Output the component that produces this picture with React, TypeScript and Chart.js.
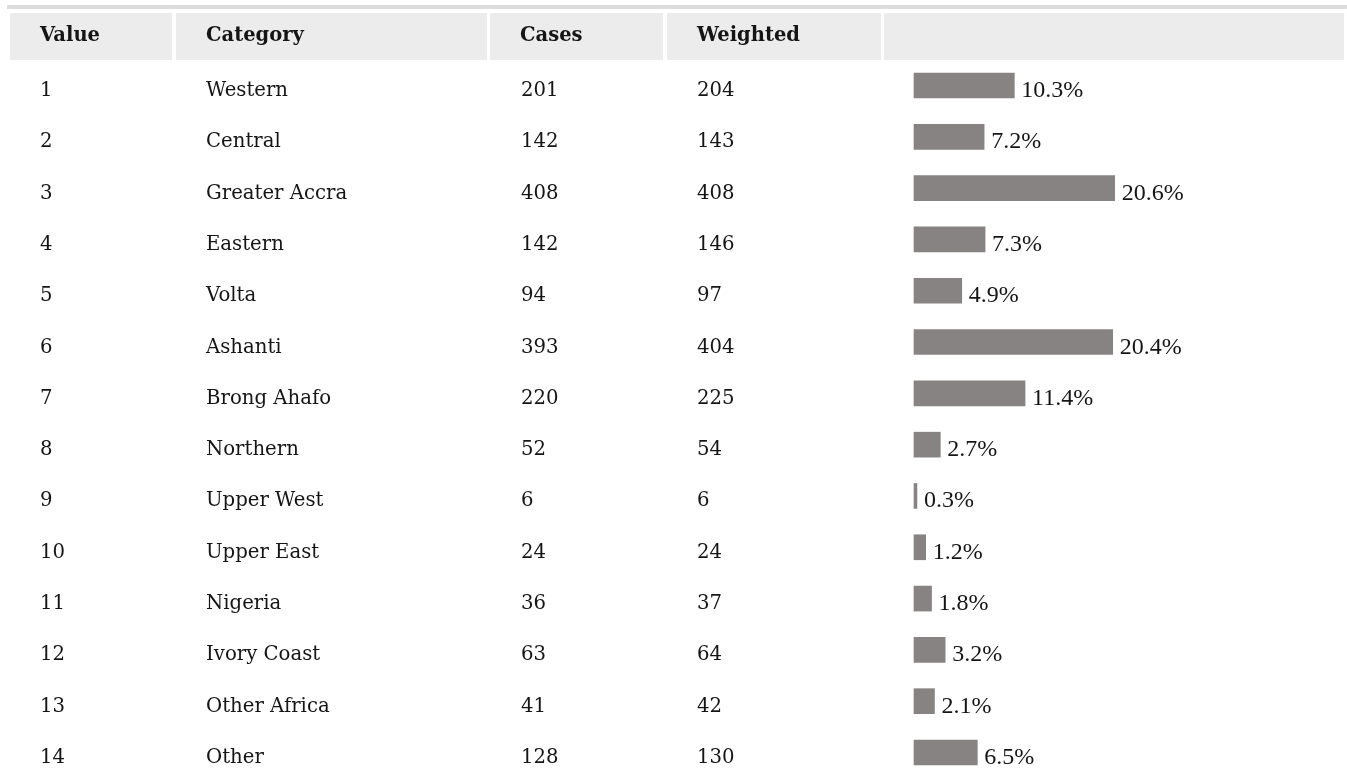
import React, { useEffect, useRef } from "react";
import { Chart, registerables } from "chart.js";

Chart.register(...registerables);

const headers = ["Value", "Category", "Cases", "Weighted", ""];
const values = ["1", "2", "3", "4", "5", "6", "7", "8", "9", "10", "11", "12", "13", "14"];
const categories = [
  "Western", "Central", "Greater Accra", "Eastern", "Volta", "Ashanti", "Brong Ahafo",
  "Northern", "Upper West", "Upper East", "Nigeria", "Ivory Coast", "Other Africa", "Other",
];
const cases = [201, 142, 408, 142, 94, 393, 220, 52, 6, 24, 36, 63, 41, 128];
const weighted = [204, 143, 408, 146, 97, 404, 225, 54, 6, 24, 37, 64, 42, 130];
const percents = [10.3, 7.2, 20.6, 7.3, 4.9, 20.4, 11.4, 2.7, 0.3, 1.2, 1.8, 3.2, 2.1, 6.5];

const W = 1347;
const H = 775;
const TABLE_FONT = '"DejaVu Serif", serif';
const LABEL_FONT = '"Liberation Serif", serif';
const cols = [
  { x0: 10, x1: 172 },
  { x0: 176, x1: 487 },
  { x0: 490, x1: 663 },
  { x0: 667, x1: 881 },
  { x0: 884, x1: 1344 },
];
const textPad = 30;

const tablePlugin = {
  id: "tablePlugin",
  beforeDraw(chart: any) {
    const ctx = chart.ctx;
    const yScale = chart.scales.y;
    ctx.save();
    ctx.fillStyle = "#ffffff";
    ctx.fillRect(0, 0, W, H);
    // top rule
    ctx.fillStyle = "#dddddd";
    ctx.fillRect(7, 5, W - 7, 4);
    // header cells
    ctx.fillStyle = "#ececec";
    cols.forEach((c) => ctx.fillRect(c.x0, 13, c.x1 - c.x0, 47));
    ctx.fillStyle = "#151515";
    ctx.textBaseline = "alphabetic";
    ctx.textAlign = "left";
    ctx.font = `bold 19.5px ${TABLE_FONT}`;
    headers.forEach((h, i) => {
      if (h) ctx.fillText(h, cols[i].x0 + textPad, 41);
    });
    ctx.font = `19.7px ${TABLE_FONT}`;
    categories.forEach((cat, i) => {
      const y = yScale.getPixelForValue(i) + 10.5;
      ctx.fillText(values[i], cols[0].x0 + textPad, y);
      ctx.fillText(cat, cols[1].x0 + textPad, y);
      ctx.fillText(String(cases[i]), cols[2].x0 + textPad + 1, y);
      ctx.fillText(String(weighted[i]), cols[3].x0 + textPad, y);
    });
    ctx.restore();
  },
  afterDatasetsDraw(chart: any) {
    const ctx = chart.ctx;
    const meta = chart.getDatasetMeta(0);
    ctx.save();
    ctx.fillStyle = "#151515";
    ctx.font = `24px ${LABEL_FONT}`;
    ctx.textBaseline = "alphabetic";
    ctx.textAlign = "left";
    meta.data.forEach((bar: any, i: number) => {
      ctx.fillText(percents[i].toFixed(1) + "%", bar.x + 7, bar.y + 11.5);
    });
    ctx.restore();
  },
};

export default function App() {
  const ref = useRef<HTMLCanvasElement>(null);
  useEffect(() => {
    const canvas = ref.current;
    if (!canvas) return;
    const chart = new Chart(canvas, {
      type: "bar",
      data: {
        labels: categories,
        datasets: [
          {
            data: percents,
            backgroundColor: "#878382",
            borderWidth: 0,
            barThickness: 25,
            clip: false as any,
          },
        ],
      },
      options: {
        indexAxis: "y",
        responsive: false,
        animation: false,
        devicePixelRatio: 1,
        layout: { padding: { left: 914, right: 43.4, top: 85.5, bottom: 22.5 } },
        scales: {
          x: { display: false, min: 0, max: 40, grid: { display: false } },
          y: { display: false, offset: false, grid: { display: false } },
        },
        plugins: {
          legend: { display: false },
          tooltip: { enabled: false },
          title: { display: false },
        },
      },
      plugins: [tablePlugin],
    });
    return () => chart.destroy();
  }, []);
  return (
    <div style={{ position: "absolute", left: 0, top: 0, width: W, height: H, overflow: "hidden", background: "#fff" }}>
      <canvas ref={ref} width={W} height={H} style={{ width: W, height: H, display: "block" }} />
    </div>
  );
}
